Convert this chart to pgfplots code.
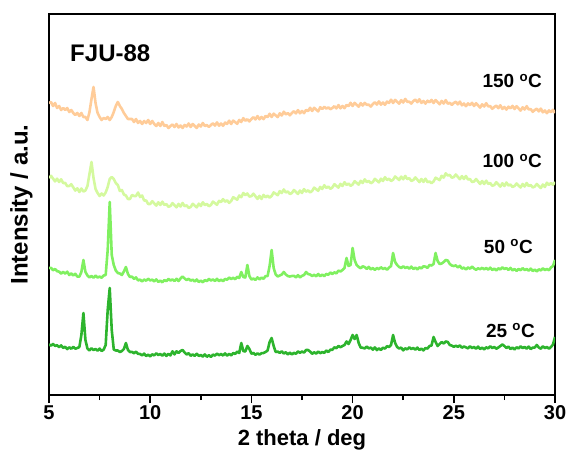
\documentclass[border=0pt]{standalone}
\usepackage{fontspec}
\setmainfont{Liberation Sans}
\usepackage{pgfplots}
\pgfplotsset{compat=1.18}
\definecolor{cA}{RGB}{255,204,153}
\definecolor{cB}{RGB}{212,249,158}
\definecolor{cC}{RGB}{128,240,96}
\definecolor{cD}{RGB}{45,180,45}
\begin{document}
\begin{tikzpicture}
\begin{axis}[
 scale only axis, width=506pt, height=381pt,
 xmin=5, xmax=30, ymin=1, ymax=382,
 xtick={5,10,15,20,25,30}, minor xtick={7.5,12.5,17.5,22.5,27.5},
 xtick pos=bottom, ytick=\empty,
 tick align=outside,
 major tick length=8pt, minor tick length=5pt,
 every tick/.style={black, line width=1.5pt},
 axis line style={line width=1.8pt},
 tick label style={font=\fontsize{20}{24}\selectfont\bfseries},
 xticklabel style={inner sep=2.5pt},
 /pgf/number format/assume math mode=true,
 xlabel={2 theta / deg},
 ylabel={Intensity / a.u.},
 xlabel style={font=\fontsize{22}{26}\selectfont\bfseries, at={(axis description cs:0.5,0)}, anchor=north, yshift=-34pt, inner sep=0pt},
 ylabel style={font=\fontsize{24}{28}\selectfont\bfseries, at={(axis description cs:-0.032,0.5)}, anchor=south, inner sep=0pt},
 every axis plot/.append style={line width=2.6pt, line join=round},
]
\addplot[cA] coordinates {(5.0,293)(5.1,294)(5.2,290)(5.3,293)(5.4,288)(5.5,290)(5.6,286)(5.7,288)(5.8,286)(5.9,288)(6.0,284)(6.1,286)(6.2,283)(6.3,281)(6.4,283)(6.5,280)(6.6,283)(6.7,279)(6.8,279)(6.9,276)(7.0,284)(7.1,297)(7.2,309)(7.3,293)(7.4,283)(7.5,279)(7.6,276)(7.7,278)(7.8,277)(7.9,279)(8.0,276)(8.1,279)(8.2,284)(8.3,290)(8.4,294)(8.5,290)(8.6,287)(8.7,283)(8.8,280)(8.9,277)(9.0,277)(9.1,277)(9.2,274)(9.3,277)(9.4,273)(9.5,275)(9.6,272)(9.7,275)(9.8,273)(9.9,276)(10.0,272)(10.1,275)(10.2,272)(10.3,270)(10.4,273)(10.5,270)(10.6,274)(10.7,270)(10.8,271)(10.9,268)(11.0,270)(11.1,271.5)(11.2,269)(11.3,272)(11.4,268.5)(11.5,270.5)(11.6,268)(11.7,271)(11.8,269.5)(11.9,272.5)(12.0,269)(12.1,272)(12.2,270)(12.3,268)(12.4,271.5)(12.5,269.5)(12.6,273)(12.7,270)(12.8,271)(12.9,269)(13.0,271)(13.1,272.7)(13.2,270.4)(13.3,273.6)(13.4,270.3)(13.5,272.5)(13.6,270.2)(13.7,273.4)(13.8,272.1)(13.9,275.3)(14.0,272)(14.1,275.4)(14.2,273.8)(14.3,272.2)(14.4,276.1)(14.5,274)(14.6,277.9)(14.7,275.3)(14.8,276.7)(14.9,274.6)(15.0,277)(15.1,278.8)(15.2,276.6)(15.3,279.9)(15.4,276.7)(15.5,279)(15.6,276.8)(15.7,280.1)(15.8,278.9)(15.9,282.2)(16.0,279)(16.1,282.3)(16.2,280.6)(16.3,278.9)(16.4,282.7)(16.5,280.5)(16.6,284.3)(16.7,281.6)(16.8,282.9)(16.9,280.7)(17.0,283)(17.1,284.8)(17.2,282.6)(17.3,285.9)(17.4,282.7)(17.5,285)(17.6,282.8)(17.7,286.1)(17.8,284.9)(17.9,288.2)(18.0,285)(18.1,288.2)(18.2,286.4)(18.3,284.6)(18.4,288.8)(18.5,287)(18.6,289.2)(18.7,287.4)(18.8,288.6)(18.9,286.8)(19.0,288)(19.1,289.8)(19.2,287.6)(19.3,290.9)(19.4,287.7)(19.5,290)(19.6,287.8)(19.7,291.1)(19.8,289.9)(19.9,293.2)(20.0,290)(20.1,293.1)(20.2,291.2)(20.3,289.3)(20.4,292.9)(20.5,290.5)(20.6,293.1)(20.7,291.2)(20.8,291.3)(20.9,289.4)(21.0,292)(21.1,293.7)(21.2,291.4)(21.3,294.6)(21.4,291.3)(21.5,293.5)(21.6,291.2)(21.7,294.4)(21.8,293.1)(21.9,296.3)(22.0,293)(22.1,296.1)(22.2,294.2)(22.3,292.3)(22.4,295.9)(22.5,293.5)(22.6,297.1)(22.7,294.2)(22.8,294.3)(22.9,292.4)(23.0,295)(23.1,296.4)(23.2,293.8)(23.3,296.7)(23.4,293.1)(23.5,295)(23.6,292.4)(23.7,295.3)(23.8,293.7)(23.9,296.1)(24.0,293)(24.1,295.9)(24.2,293.8)(24.3,291.7)(24.4,295.1)(24.5,292.5)(24.6,295.9)(24.7,292.3)(24.8,293.2)(24.9,291.1)(25.0,293)(25.1,294.3)(25.2,291.6)(25.3,294.4)(25.4,290.7)(25.5,292.5)(25.6,289.8)(25.7,292.6)(25.8,290.9)(25.9,293.2)(26.0,290)(26.1,292.8)(26.2,290.6)(26.3,288.4)(26.4,291.7)(26.5,289.5)(26.6,292.8)(26.7,289.6)(26.8,289.9)(26.9,287.2)(27.0,289)(27.1,290.4)(27.2,287.8)(27.3,290.7)(27.4,287.1)(27.5,289)(27.6,286.4)(27.7,289.3)(27.8,287.7)(27.9,290.1)(28.0,287)(28.1,289.8)(28.2,287.6)(28.3,285.4)(28.4,288.7)(28.5,286.5)(28.6,289.8)(28.7,286.6)(28.8,286.9)(28.9,284.2)(29.0,286)(29.1,287.3)(29.2,284.6)(29.3,287.4)(29.4,283.7)(29.5,285.5)(29.6,282.8)(29.7,285.6)(29.8,283.9)(29.9,286.2)(30.0,283)};
\addplot[cB] coordinates {(5.0,218)(5.1,220.2)(5.2,217.4)(5.3,214.6)(5.4,217.3)(5.5,214)(5.6,216.7)(5.7,212.9)(5.8,213.1)(5.9,209.8)(6.0,210)(6.1,211.8)(6.2,208.6)(6.3,205.4)(6.4,207.7)(6.5,204)(6.6,207.5)(6.7,204.5)(6.8,205.5)(6.9,210)(7.0,222)(7.1,234)(7.2,218)(7.3,207)(7.4,203)(7.5,200)(7.6,202.5)(7.7,200.5)(7.8,203.5)(7.9,209)(8.0,217)(8.1,219)(8.2,217)(8.3,213)(8.4,211)(8.5,205)(8.6,206)(8.7,201.5)(8.8,200.5)(8.9,197)(9.0,197)(9.1,201)(9.2,200)(9.3,200)(9.4,203.5)(9.5,199)(9.6,200.5)(9.7,195.5)(9.8,195.5)(9.9,192)(10.0,192)(10.1,194.8)(10.2,192.6)(10.3,190.4)(10.4,193.7)(10.5,191)(10.6,194.3)(10.7,191.1)(10.8,191.9)(10.9,189.2)(11.0,190)(11.1,192.9)(11.2,190.8)(11.3,188.7)(11.4,192.1)(11.5,189.5)(11.6,193)(11.7,189.8)(11.8,190.7)(11.9,188.1)(12.0,189)(12.1,192.2)(12.2,190.4)(12.3,188.6)(12.4,192.3)(12.5,190)(12.6,193.7)(12.7,190.9)(12.8,192.1)(12.9,189.8)(13.0,191)(13.1,194.4)(13.2,192.8)(13.3,191.2)(13.4,195.1)(13.5,194)(13.6,196.9)(13.7,194.3)(13.8,195.7)(13.9,193.1)(14.0,195)(14.1,198.8)(14.2,197.5)(14.3,196.3)(14.4,200.5)(14.5,198.8)(14.6,203)(14.7,200.8)(14.8,202.5)(14.9,199.4)(15.0,199.9)(15.1,202.3)(15.2,199.7)(15.3,197.1)(15.4,200.1)(15.5,197)(15.6,201.1)(15.7,198.7)(15.8,200.3)(15.9,198.4)(16.0,200)(16.1,203.6)(16.2,202.2)(16.3,200.8)(16.4,204.9)(16.5,203)(16.6,206.5)(16.7,203.5)(16.8,204.5)(16.9,202)(17.0,203)(17.1,206)(17.2,204)(17.3,202)(17.4,205.5)(17.5,203)(17.6,206.9)(17.7,204.3)(17.8,205.7)(17.9,203.6)(18.0,205)(18.1,208.4)(18.2,206.8)(18.3,205.2)(18.4,209.1)(18.5,207)(18.6,210.8)(18.7,208.1)(18.8,209.4)(18.9,207.2)(19.0,208.5)(19.1,211.8)(19.2,210.1)(19.3,208.4)(19.4,212.2)(19.5,210)(19.6,213.8)(19.7,211.1)(19.8,212.4)(19.9,210.2)(20.0,211.5)(20.1,214.8)(20.2,213.1)(20.3,211.4)(20.4,215.2)(20.5,213)(20.6,216.7)(20.7,213.9)(20.8,215.1)(20.9,212.8)(21.0,214)(21.1,217.2)(21.2,215.4)(21.3,213.6)(21.4,217.3)(21.5,215)(21.6,218.8)(21.7,216)(21.8,217.3)(21.9,215)(22.0,216.3)(22.1,219.5)(22.2,217.8)(22.3,216)(22.4,219.4)(22.5,216.7)(22.6,220.1)(22.7,216.9)(22.8,217.8)(22.9,215.1)(23.0,216)(23.1,218.6)(23.2,216.3)(23.3,213.9)(23.4,217)(23.5,214.1)(23.6,217.3)(23.7,213.9)(23.8,214.5)(23.9,212.8)(24.0,214.6)(24.1,218.3)(24.2,217.1)(24.3,215.9)(24.4,220.2)(24.5,218.4)(24.6,222.7)(24.7,220.5)(24.8,221.1)(24.9,218.3)(25.0,218.9)(25.1,221.5)(25.2,219.1)(25.3,216.8)(25.4,219.9)(25.5,217)(25.6,220)(25.7,216.5)(25.8,217)(25.9,214)(26.0,214.5)(26.1,217)(26.2,214.5)(26.3,212)(26.4,215)(26.5,212)(26.6,215.3)(26.7,212.1)(26.8,212.9)(26.9,210.2)(27.0,211)(27.1,213.8)(27.2,211.6)(27.3,209.4)(27.4,212.7)(27.5,210)(27.6,213.5)(27.7,210.5)(27.8,211.5)(27.9,209)(28.0,210)(28.1,212.5)(28.2,210.5)(28.3,208.5)(28.4,212)(28.5,209.5)(28.6,213)(28.7,210)(28.8,211)(28.9,208.5)(29.0,209.5)(29.1,212)(29.2,210)(29.3,208)(29.4,211.5)(29.5,209)(29.6,213.3)(29.7,211.1)(29.8,212.9)(29.9,211.2)(30.0,214)};
\addplot[cC] coordinates {(5.0,128)(5.1,128.2)(5.2,125.7)(5.3,127)(5.4,124.8)(5.5,124.4)(5.6,122.4)(5.7,124.1)(5.8,122.4)(5.9,124.3)(6.0,121)(6.1,122.6)(6.2,120.5)(6.3,122.2)(6.4,119.4)(6.5,119.4)(6.6,124)(6.7,136)(6.8,124)(6.9,120.5)(7.0,118.6)(7.1,120)(7.2,118.3)(7.3,120.4)(7.4,118.5)(7.5,119.4)(7.6,118.2)(7.7,120.5)(7.8,121)(7.9,146)(8.0,194)(8.1,141)(8.2,131)(8.3,125.5)(8.4,123)(8.5,122.5)(8.6,121)(8.7,124.5)(8.8,129)(8.9,122)(9.0,119)(9.1,119.4)(9.2,117.1)(9.3,118.6)(9.4,115.6)(9.5,116.4)(9.6,114.5)(9.7,116.5)(9.8,115.3)(9.9,117.3)(10.0,115.5)(10.1,116.4)(10.2,114.6)(10.3,116.6)(10.4,114.1)(10.5,115.4)(10.6,113.7)(10.7,115.9)(10.8,114.9)(10.9,117.1)(11.0,115.5)(11.1,116.6)(11.2,115)(11.3,117.2)(11.4,115)(11.5,117.5)(11.6,119.5)(11.7,117.5)(11.8,116)(11.9,117.2)(12.0,115.4)(12.1,116.3)(12.2,114.5)(12.3,116.5)(12.4,114)(12.5,115.4)(12.6,113.7)(12.7,115.9)(12.8,114.9)(12.9,117.1)(13.0,115.5)(13.1,116.6)(13.2,115)(13.3,117.2)(13.4,114.9)(13.5,116.4)(13.6,114.8)(13.7,117.1)(13.8,116.2)(13.9,118.5)(14.0,117)(14.1,118.2)(14.2,116.8)(14.3,119.2)(14.4,118)(14.5,124)(14.6,119)(14.7,118.5)(14.8,131)(14.9,120)(15.0,116.5)(15.1,117.4)(15.2,116.1)(15.3,118.6)(15.4,116.6)(15.5,118.4)(15.6,117.2)(15.7,119.9)(15.8,120)(15.9,130)(16.0,146)(16.1,128)(16.2,121.5)(16.3,119.5)(16.4,120.5)(16.5,121.5)(16.6,124)(16.7,121.5)(16.8,120)(16.9,119.5)(17.0,120)(17.1,120.2)(17.2,118.6)(17.3,120.9)(17.4,118.6)(17.5,120.2)(17.6,121)(17.7,124)(17.8,122)(17.9,121.5)(18.0,120)(18.1,121.2)(18.2,119.7)(18.3,122)(18.4,119.8)(18.5,121.4)(18.6,119.8)(18.7,122.1)(18.8,121.2)(18.9,123.5)(19.0,122)(19.1,123.7)(19.2,122.6)(19.3,125.4)(19.4,124.5)(19.5,126)(19.6,128)(19.7,138)(19.8,130)(19.9,131)(20.0,148)(20.1,136)(20.2,131)(20.3,129)(20.4,127.8)(20.5,129.7)(20.6,128.9)(20.7,127.1)(20.8,129.1)(20.9,126.6)(21.0,128)(21.1,126.1)(21.2,128)(21.3,126.8)(21.4,128.8)(21.5,127)(21.6,128)(21.7,126.3)(21.8,128.4)(21.9,130)(22.0,143)(22.1,134)(22.2,131)(22.3,129)(22.4,128)(22.5,129.7)(22.6,128)(22.7,129)(22.8,127.3)(22.9,129.4)(23.0,127)(23.1,128.4)(23.2,126.6)(23.3,128.7)(23.4,127.6)(23.5,129.7)(23.6,129.4)(23.7,128.1)(23.8,131)(23.9,130.5)(24.0,132)(24.1,143)(24.2,135)(24.3,132)(24.4,132.5)(24.5,134)(24.6,136)(24.7,135.5)(24.8,132)(24.9,130.5)(25.0,130)(25.1,130.6)(25.2,128.5)(25.3,130.2)(25.4,127.4)(25.5,128.4)(25.6,126.5)(25.7,128.6)(25.8,127.3)(25.9,129.4)(26.0,127.5)(26.1,126.2)(26.2,127.7)(26.3,126.8)(26.4,128.2)(26.5,126.6)(26.6,128)(26.7,126.3)(26.8,128.4)(26.9,126)(27.0,127.4)(27.1,125.6)(27.2,127.7)(27.3,126.6)(27.4,128.7)(27.5,127)(27.6,127.9)(27.7,126.1)(27.8,128.1)(27.9,125.6)(28.0,127)(28.1,125.1)(28.2,127)(28.3,125.8)(28.4,127.8)(28.5,126)(28.6,127)(28.7,125.3)(28.8,127.4)(28.9,125)(29.0,126.4)(29.1,124.6)(29.2,126.7)(29.3,125.6)(29.4,127.7)(29.5,126)(29.6,127)(29.7,125.8)(29.8,128.5)(29.9,130)(30.0,136)};
\addplot[cD] coordinates {(5.0,51.7)(5.1,50.3)(5.2,52.1)(5.3,50.1)(5.4,50.8)(5.5,48.8)(5.6,50.6)(5.7,48.1)(5.8,49.2)(5.9,46.9)(6.0,48.7)(6.1,47.3)(6.2,49.1)(6.3,47.3)(6.4,48)(6.5,49)(6.6,61)(6.7,83)(6.8,56)(6.9,47.4)(7.0,45.6)(7.1,47.7)(7.2,46)(7.3,47)(7.4,45.3)(7.5,47.4)(7.6,45)(7.7,46.4)(7.8,51)(7.9,86)(8.0,108)(8.1,66)(8.2,46.5)(8.3,45.5)(8.4,45.5)(8.5,44)(8.6,45)(8.7,47)(8.8,53)(8.9,46)(9.0,44)(9.1,44.1)(9.2,42.8)(9.3,44.3)(9.4,42.2)(9.5,42)(9.6,40.6)(9.7,42.4)(9.8,40)(9.9,41.4)(10.0,39.6)(10.1,41.7)(10.2,40.6)(10.3,42.7)(10.4,41)(10.5,42)(10.6,40.3)(10.7,42.4)(10.8,40.1)(10.9,42.2)(11.0,40.6)(11.1,44.7)(11.2,41.6)(11.3,44.7)(11.4,43)(11.5,45)(11.6,46)(11.7,43.5)(11.8,41.5)(11.9,42.8)(12.0,40.2)(12.1,41.6)(12.2,40.1)(12.3,42.2)(12.4,40.1)(12.5,41)(12.6,39.4)(12.7,41.6)(12.8,39.2)(12.9,40.8)(13.0,39.1)(13.1,41.4)(13.2,40.4)(13.3,42.4)(13.4,40.8)(13.5,42)(13.6,40.5)(13.7,42.6)(13.8,40.4)(13.9,42.2)(14.0,40.6)(14.1,42.9)(14.2,42.1)(14.3,44.4)(14.4,43)(14.5,53)(14.6,45)(14.7,44.5)(14.8,50)(14.9,47)(15.0,42.3)(15.1,43.1)(15.2,41.2)(15.3,42.6)(15.4,41.4)(15.5,42.8)(15.6,43)(15.7,44)(15.8,45.5)(15.9,54)(16.0,58)(16.1,50)(16.2,44)(16.3,44.4)(16.4,43.1)(16.5,44.7)(16.6,42.5)(16.7,43.8)(16.8,41.6)(16.9,43.4)(17.0,41.5)(17.1,43.2)(17.2,42.2)(17.3,44.6)(17.4,43.2)(17.5,44.5)(17.6,43.4)(17.7,46)(17.8,46)(17.9,44.4)(18.0,42.2)(18.1,43.7)(18.2,42.4)(18.3,44.5)(18.4,42.8)(18.5,44)(18.6,43.1)(18.7,45.5)(18.8,44)(18.9,46.3)(19.0,46.2)(19.1,48.7)(19.2,47.8)(19.3,50.1)(19.4,48.8)(19.5,50)(19.6,51)(19.7,54.5)(19.8,52)(19.9,56)(20.0,61)(20.1,57)(20.2,61)(20.3,53)(20.4,48.4)(20.5,48.2)(20.6,47.6)(20.7,49.4)(20.8,47.6)(20.9,48.4)(21.0,46.3)(21.1,48.6)(21.2,45.9)(21.3,47.6)(21.4,46)(21.5,48.3)(21.6,47.4)(21.7,49.8)(21.8,49)(21.9,51)(22.0,61)(22.1,53)(22.2,49)(22.3,47.5)(22.4,48.4)(22.5,45.6)(22.6,47.7)(22.7,46.6)(22.8,48.7)(22.9,47)(23.0,48)(23.1,46.3)(23.2,48.4)(23.3,46)(23.4,47.4)(23.5,45.6)(23.6,48)(23.7,47.4)(23.8,50)(23.9,50.5)(24.0,59)(24.1,54)(24.2,50)(24.3,52)(24.4,54)(24.5,52.5)(24.6,54.5)(24.7,54)(24.8,51)(24.9,50.4)(25.0,49.2)(25.1,50.3)(25.2,49.2)(25.3,50.6)(25.4,48.3)(25.5,49.5)(25.6,48.7)(25.7,47.6)(25.8,49.7)(25.9,48)(26.0,49)(26.1,47.3)(26.2,49.4)(26.3,47)(26.4,48.4)(26.5,46.6)(26.6,48.7)(26.7,47.6)(26.8,49.7)(26.9,48)(27.0,49)(27.1,47.3)(27.2,48.5)(27.3,50)(27.4,51.5)(27.5,50)(27.6,48)(27.7,49.4)(27.8,47)(27.9,48.4)(28.0,46.6)(28.1,48.7)(28.2,47.6)(28.3,49.7)(28.4,48)(28.5,49)(28.6,47.3)(28.7,49.4)(28.8,47)(28.9,48.4)(29.0,48.5)(29.1,51)(29.2,48.5)(29.3,47.3)(29.4,49.7)(29.5,48)(29.6,49)(29.7,47.3)(29.8,49)(29.9,51.5)(30.0,59)};
\node[anchor=base west, inner sep=0pt, font=\fontsize{24}{28}\selectfont\bfseries] at (axis cs:6.04,334) {FJU-88};
\node[anchor=base east, inner sep=0pt, font=\fontsize{19}{23}\selectfont\bfseries] at (axis cs:29.36,308) {150 \textsuperscript{o}C};
\node[anchor=base east, inner sep=0pt, font=\fontsize{19}{23}\selectfont\bfseries] at (axis cs:29.36,228) {100 \textsuperscript{o}C};
\node[anchor=base east, inner sep=0pt, font=\fontsize{19}{23}\selectfont\bfseries] at (axis cs:28.91,143) {50 \textsuperscript{o}C};
\node[anchor=base east, inner sep=0pt, font=\fontsize{19}{23}\selectfont\bfseries] at (axis cs:29.01,59) {25 \textsuperscript{o}C};
\end{axis}
\path ([shift={(-49pt,-55pt)}]current axis.south west) rectangle ([shift={(17pt,14pt)}]current axis.north east);
\end{tikzpicture}
\end{document}
